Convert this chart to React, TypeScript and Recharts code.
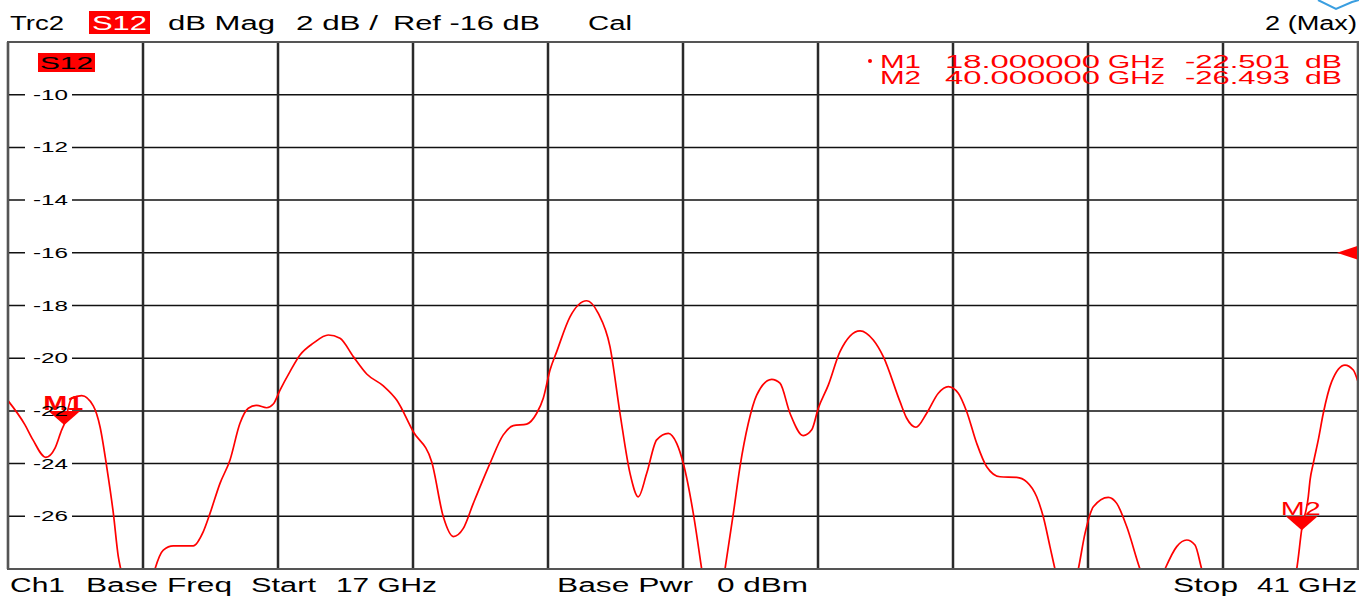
import React from "react";
import {
  LineChart,
  Line,
  XAxis,
  YAxis,
  CartesianGrid,
  ReferenceDot,
} from "recharts";

// ---- Data ----
const freqGHz = [
  17.0, 17.302, 17.444, 17.67, 17.836, 17.955, 18.0, 18.132, 18.31, 18.516,
  18.636, 18.755, 18.872, 18.961, 19.003, 19.31, 19.613, 19.761, 19.939, 20.294,
  20.472, 20.591, 20.769, 20.947, 21.124, 21.272, 21.421, 21.599, 21.716, 21.836,
  22.013, 22.191, 22.428, 22.694, 22.902, 23.139, 23.377, 23.672, 23.91, 24.205,
  24.532, 24.739, 24.916, 25.094, 25.272, 25.569, 25.805, 25.983, 26.221, 26.399,
  26.516, 26.636, 26.755, 26.991, 27.288, 27.494, 27.702, 27.88, 28.058, 28.205,
  28.355, 28.532, 28.739, 28.888, 29.005, 29.183, 29.332, 29.54, 29.747, 29.895,
  30.013, 30.161, 30.31, 30.577, 30.724, 30.902, 31.138, 31.288, 31.405, 31.583,
  31.791, 32.147, 32.383, 32.561, 32.858, 32.977, 33.142, 33.332, 33.539, 33.716,
  33.894, 34.044, 34.221, 34.399, 34.636, 34.932, 35.11, 35.288, 35.405, 35.524,
  35.613, 35.82, 36.028, 36.147, 36.295, 36.561, 36.711, 36.888, 37.124, 37.35,
  37.569, 37.777, 37.955, 38.102, 38.221, 39.07, 39.91, 40.0, 40.116, 40.148,
  40.205, 40.294, 40.383, 40.532, 40.768, 40.916, 41.0,
];

const s12dB = [
  -21.61, -22.53, -23.1, -23.76, -23.41, -22.72, -22.5, -21.52, -21.42, -21.81,
  -22.6, -24.12, -25.87, -27.53, -28.0, -31.5, -28.0, -27.28, -27.12, -27.12,
  -26.58, -25.89, -24.75, -23.86, -22.47, -21.9, -21.79, -21.88, -21.74, -21.21,
  -20.51, -19.88, -19.43, -19.12, -19.24, -19.94, -20.6, -21.05, -21.59, -22.79,
  -23.93, -26.02, -26.77, -26.46, -25.51, -23.99, -22.91, -22.56, -22.5, -22.09,
  -21.52, -20.45, -19.75, -18.43, -17.82, -18.3, -19.56, -22.09, -24.37, -25.26,
  -24.37, -23.1, -22.85, -23.23, -23.99, -25.89, -28.0, -31.0, -28.0, -25.89,
  -24.12, -22.47, -21.4, -20.8, -20.95, -22.09, -22.94, -22.72, -21.9, -21.02,
  -19.75, -18.96, -19.31, -19.94, -21.65, -22.28, -22.62, -22.09, -21.33, -21.08,
  -21.33, -22.03, -23.23, -24.12, -24.5, -24.52, -24.69, -25.26, -26.02, -27.15,
  -28.0, -29.6, -28.0, -26.65, -25.64, -25.28, -25.51, -26.39, -28.0, -29.2,
  -28.0, -27.15, -26.9, -27.09, -28.0, -33.0, -28.0, -26.49, -25.26, -24.62,
  -23.99, -23.1, -22.09, -20.89, -20.26, -20.45, -20.89,
];

const xGridTicks = [17, 19.4, 21.8, 24.2, 26.6, 29, 31.4, 33.8, 36.2, 38.6, 41];
const yTicks = [-10, -12, -14, -16, -18, -20, -22, -24, -26];
const yDomain = [-28, -8];
const xDomain = [17, 41];
const refLevel = -16;

const markerNames = ["M1", "M2"];
const markerFreqs = [18, 40];
const markerVals = [-22.501, -26.493];
const markerFreqText = ["18.000000", "40.000000"];
const markerValText = ["-22.501", "-26.493"];

const data = freqGHz.map((f, i) => ({ f, v: s12dB[i] }));

const RED = "#ff0000";
const FONT = "'Liberation Sans', Arial, sans-serif";

type TProps = {
  x: number;
  y: number;
  w: number;
  size: number;
  fill?: string;
  weight?: string | number;
  children: React.ReactNode;
};
const T = ({ x, y, w, size, fill = "#000", weight = "normal", children }: TProps) => (
  <text
    x={x}
    y={y}
    textLength={w}
    lengthAdjust="spacingAndGlyphs"
    fontFamily={FONT}
    fontSize={size}
    fontWeight={weight}
    fill={fill}
  >
    {children}
  </text>
);

const YTick = (props: any) => {
  const { y, payload } = props;
  const left = 8;
  return (
    <T x={left + 25} y={y + 5} w={35} size={14}>
      {String(payload.value)}
    </T>
  );
};

const markerShape = (name: string, bold: boolean) => (props: any) => {
  const { cx, cy } = props;
  return (
    <g>
      <polygon
        points={`${cx - 16},${cy - 13} ${cx + 16},${cy - 13} ${cx},${cy + 1}`}
        fill={RED}
      />
      <T
        x={cx - 21}
        y={cy - 14}
        w={40}
        size={bold ? 20 : 19}
        fill={RED}
        weight={bold ? "bold" : "normal"}
      >
        {name}
      </T>
    </g>
  );
};

const refArrow = (props: any) => {
  const { cx, cy } = props;
  return (
    <polygon
      points={`${cx - 21},${cy} ${cx},${cy - 7} ${cx},${cy + 7}`}
      fill={RED}
    />
  );
};

export default function App() {
  return (
    <div
      style={{
        position: "absolute",
        left: 0,
        top: 0,
        width: 1359,
        height: 596,
        background: "#fff",
        overflow: "hidden",
      }}
    >
      <LineChart
        width={1359}
        height={596}
        data={data}
        margin={{ top: 42, left: 8, right: 1, bottom: 27 }}
      >
        <CartesianGrid
          horizontal={true}
          vertical={false}
          stroke="#111"
          strokeWidth={1.5}
          strokeDasharray="17 47 3000"
        />
        <CartesianGrid
          horizontal={false}
          vertical={true}
          stroke="#2a2a2a"
          strokeWidth={2.5}
        />
        <XAxis
          type="number"
          dataKey="f"
          domain={xDomain}
          ticks={xGridTicks}
          hide
        />
        <YAxis
          type="number"
          domain={yDomain}
          ticks={yTicks}
          allowDataOverflow
          mirror
          axisLine={false}
          tickLine={false}
          tick={<YTick />}
          interval={0}
        />
        <Line
          type="monotone"
          dataKey="v"
          stroke={RED}
          strokeWidth={1.7}
          dot={false}
          isAnimationActive={false}
          {...({ zIndex: 650 } as any)}
        />
        {markerNames.map((n, i) => (
          <ReferenceDot
            key={n}
            x={markerFreqs[i]}
            y={markerVals[i]}
            r={0}
            ifOverflow="visible"
            shape={markerShape(n, i === 0)}
            {...({ zIndex: 700 } as any)}
          />
        ))}
        <ReferenceDot
          x={xDomain[1]}
          y={refLevel}
          r={0}
          ifOverflow="visible"
          shape={refArrow}
          {...({ zIndex: 700 } as any)}
        />
      </LineChart>

      <svg
        width={1359}
        height={596}
        style={{ position: "absolute", left: 0, top: 0, pointerEvents: "none" }}
      >
        {/* frame */}
        <rect x={8} y={42} width={1350} height={527} fill="none" stroke="#555" strokeWidth={2} />

        {/* header */}
        <T x={10} y={30} w={54} size={20}>Trc2</T>
        <rect x={89} y={11} width={61} height={23} fill={RED} />
        <T x={92} y={30} w={55} size={20} fill="#fff">S12</T>
        <T x={168} y={30} w={107} size={20}>dB Mag</T>
        <T x={296} y={30} w={82} size={20}>2 dB /</T>
        <T x={393} y={30} w={147} size={20}>Ref -16 dB</T>
        <T x={588} y={30} w={44} size={20}>Cal</T>
        <T x={1265} y={30} w={92} size={20}>2 (Max)</T>
        <path d="M1318,0 L1336,9 L1352,2 L1359,0" fill="none" stroke="#3a9ee0" strokeWidth={2} />

        {/* trace label inside plot */}
        <rect x={38} y={53} width={57} height={19} fill={RED} />
        <T x={40} y={69} w={53} size={17}>S12</T>

        {/* marker readout */}
        <circle cx={870} cy={61} r={2} fill={RED} />
        {markerNames.map((n, i) => (
          <g key={n}>
            <T x={880} y={68 + i * 16} w={41} size={18} fill={RED}>{n}</T>
            <T x={945} y={68 + i * 16} w={155} size={18} fill={RED}>{markerFreqText[i]}</T>
            <T x={1108} y={68 + i * 16} w={57} size={18} fill={RED}>GHz</T>
            <T x={1185} y={68 + i * 16} w={105} size={18} fill={RED}>{markerValText[i]}</T>
            <T x={1305} y={68 + i * 16} w={37} size={18} fill={RED}>dB</T>
          </g>
        ))}

        {/* footer */}
        <T x={10} y={592} w={55} size={20}>Ch1</T>
        <T x={86} y={592} w={146} size={20}>Base Freq</T>
        <T x={251} y={592} w={65} size={20}>Start</T>
        <T x={336} y={592} w={101} size={20}>17 GHz</T>
        <T x={557} y={592} w={136} size={20}>Base Pwr</T>
        <T x={717} y={592} w={91} size={20}>0 dBm</T>
        <T x={1173} y={592} w={65} size={20}>Stop</T>
        <T x={1257} y={592} w={100} size={20}>41 GHz</T>
      </svg>
    </div>
  );
}
